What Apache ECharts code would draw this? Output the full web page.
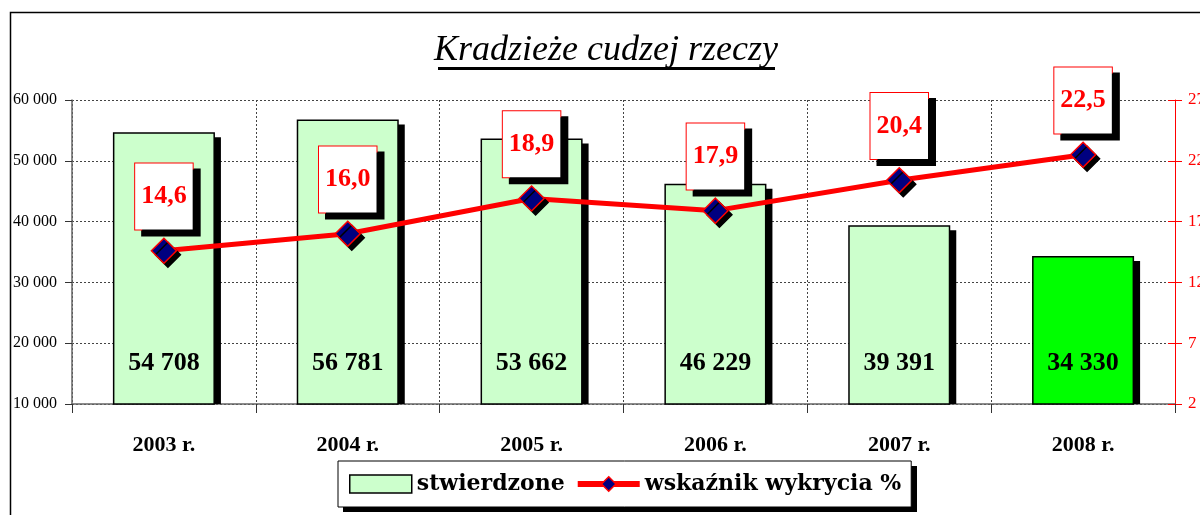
<!DOCTYPE html>
<html>
<head>
<meta charset="utf-8">
<script src="https://cdn.jsdelivr.net/npm/echarts@6/dist/echarts.min.js"></script>
<style>html,body{margin:0;padding:0;background:#fff}#c{width:1200px;height:515px}</style>
</head>
<body>
<div id="c"></div>
<script>
const categories = ['2003 r.', '2004 r.', '2005 r.', '2006 r.', '2007 r.', '2008 r.'];
const stwierdzone = [54708, 56781, 53662, 46229, 39391, 34330];
const wskaznik = [14.6, 16.0, 18.9, 17.9, 20.4, 22.5];
const leftTicks = {min: 10000, max: 60000, interval: 10000};
const rightTicks = {min: 2, max: 27, interval: 5};
const titleText = 'Kradzieże cudzej rzeczy';
const seriesNames = ['stwierdzone', 'wskaźnik wykrycia %'];

const fmtThousands = v => String(Math.round(v)).replace(/\B(?=(\d{3})+(?!\d))/g, ' ');
const fmtPct = v => v.toFixed(1).replace('.', ',');
const barFill = (i) => i === stwierdzone.length - 1 ? '#00FF00' : '#CCFFCC';

const chart = echarts.init(document.getElementById('c'), null, {renderer: 'canvas'});
const dotted = {color: '#444', width: 1, type: [2, 2]};

chart.setOption({
  animation: false,
  backgroundColor: '#fff',
  grid: {left: 72, right: 25, top: 100, bottom: 111, containLabel: false, outerBoundsMode: 'none'},
  graphic: [
    {type: 'rect', z: -10, shape: {x: 10.5, y: 12.5, width: 1300, height: 700}, style: {fill: 'none', stroke: '#000', lineWidth: 1.5}},
    {type: 'text', z: 10, style: {text: titleText, x: 606, y: 51, align: 'center', verticalAlign: 'middle', font: 'italic 36px "Liberation Serif"', fill: '#000'}},
    {type: 'rect', z: 10, shape: {x: 438, y: 67, width: 337, height: 3}, style: {fill: '#000'}},
    {type: 'rect', z: 1, shape: {x: 343, y: 466, width: 574, height: 46}, style: {fill: '#000'}}
  ],
  legend: {
    left: 338, top: 461,
    z: 5,
    padding: [12, 10, 12, 11],
    itemGap: 10,
    itemWidth: 62, itemHeight: 18,
    backgroundColor: '#fff',
    borderColor: '#000', borderWidth: 1,
    textStyle: {fontFamily: '"DejaVu Serif"', fontWeight: 'bold', fontSize: 22, color: '#000'},
    data: [
      {name: seriesNames[0], icon: 'rect', itemStyle: {color: '#CCFFCC', borderColor: '#000', borderWidth: 1.5}},
      {name: seriesNames[1], lineStyle: {color: '#FF0000', width: 6}, itemStyle: {color: '#000080', borderColor: '#FF0000', borderWidth: 1.5}}
    ]
  },
  xAxis: {
    type: 'category',
    data: categories,
    boundaryGap: true,
    axisLine: {show: true, lineStyle: {color: '#666', width: 1.5}},
    axisTick: {show: true, length: 9, lineStyle: {color: '#333'}},
    splitLine: {show: true, lineStyle: dotted},
    axisLabel: {margin: 30, fontFamily: '"Liberation Serif"', fontWeight: 'bold', fontSize: 22, color: '#000'}
  },
  yAxis: [
    {
      type: 'value', position: 'left',
      min: leftTicks.min, max: leftTicks.max, interval: leftTicks.interval,
      axisLine: {show: true, lineStyle: {color: '#666', width: 1.5}},
      axisTick: {show: true, length: 7, lineStyle: {color: '#333'}},
      splitLine: {show: true, lineStyle: dotted},
      axisLabel: {margin: 59, align: 'left', padding: [0, 0, 8, 0], fontFamily: '"Liberation Serif"', fontSize: 16, color: '#000', formatter: fmtThousands}
    },
    {
      type: 'value', position: 'right',
      min: rightTicks.min, max: rightTicks.max, interval: rightTicks.interval,
      axisLine: {show: true, lineStyle: {color: '#FF0000', width: 1}},
      axisTick: {show: true, length: 7, lineStyle: {color: '#FF0000'}},
      splitLine: {show: false},
      axisLabel: {margin: 13, fontFamily: '"Liberation Serif"', fontSize: 17, color: '#FF0000', formatter: v => String(v)}
    },
    {
      type: 'value', position: 'right',
      min: rightTicks.min, max: rightTicks.max, interval: rightTicks.interval,
      axisLine: {show: false},
      axisTick: {show: true, inside: true, length: 7, lineStyle: {color: '#FF0000'}},
      splitLine: {show: false},
      axisLabel: {show: false}
    }
  ],
  series: [
    {
      type: 'custom',
      name: 'shadow',
      z: 1,
      silent: true,
      data: stwierdzone.map((v, i) => [i, v]),
      encode: {x: 0, y: 1},
      renderItem: function (params, api) {
        const top = api.coord([api.value(0), api.value(1)]);
        const base = api.coord([api.value(0), leftTicks.min]);
        const bw = api.size([1, 0])[0] * 0.555;
        return {
          type: 'rect',
          shape: {x: top[0] - bw / 2 + 6, y: top[1] + 5, width: bw, height: base[1] - top[1] - 5},
          style: {fill: '#000'}
        };
      }
    },
    {
      type: 'bar',
      name: seriesNames[0],
      z: 2,
      barWidth: '55.5%',
      data: stwierdzone.map((v, i) => ({value: v, itemStyle: {color: barFill(i)}})),
      itemStyle: {color: '#CCFFCC', borderColor: '#000', borderWidth: 1.5},
      label: {
        show: true, position: 'insideBottom', distance: 28,
        fontFamily: '"Liberation Serif"', fontWeight: 'bold', fontSize: 26, color: '#000',
        formatter: p => fmtThousands(p.value)
      },
      emphasis: {disabled: true}
    },
    {
      type: 'line',
      name: seriesNames[1],
      yAxisIndex: 1,
      z: 5,
      data: wskaznik,
      symbol: 'diamond',
      symbolSize: 25,
      lineStyle: {color: '#FF0000', width: 5},
      itemStyle: {color: '#000080', borderColor: '#FF0000', borderWidth: 1.5, shadowColor: '#000', shadowBlur: 0, shadowOffsetX: 4, shadowOffsetY: 4},
      label: {
        show: true, position: 'top', distance: 8,
        fontFamily: '"Liberation Serif"', fontWeight: 'bold', fontSize: 26, color: '#FF0000',
        backgroundColor: '#fff', borderColor: '#FF0000', borderWidth: 1,
        padding: [20, 6, 20, 6],
        shadowColor: '#000', shadowBlur: 0, shadowOffsetX: 7, shadowOffsetY: 6,
        formatter: p => fmtPct(p.value)
      },
      emphasis: {disabled: true}
    }
  ]
});
</script>
</body>
</html>
